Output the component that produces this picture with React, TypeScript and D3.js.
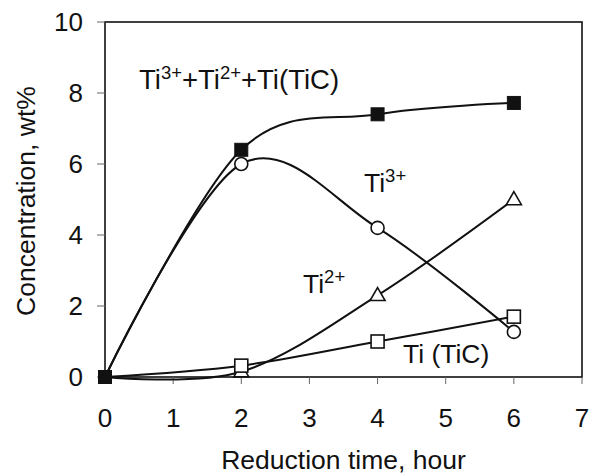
import React from "react";
import * as d3 from "d3";

const hours = [0, 2, 4, 6];
const totalTi = [0, 6.4, 7.4, 7.72];
const ti3 = [0, 6.0, 4.2, 1.27];
const ti2 = [0, 0.15, 2.3, 5.0];
const tiC = [0, 0.32, 1.0, 1.7];
const xTicks = [0, 1, 2, 3, 4, 5, 6, 7];
const yTicks = [0, 2, 4, 6, 8, 10];

const W = 593;
const H = 476;
const FONT = "'Liberation Sans', Arial, Helvetica, sans-serif";

export default function App() {
  const x = d3.scaleLinear().domain([0, 7]).range([105, 582]);
  const y = d3.scaleLinear().domain([0, 10]).range([377, 22]);
  const line = d3
    .line<[number, number]>()
    .x((d) => x(d[0]))
    .y((d) => y(d[1]))
    .curve(d3.curveCardinal.tension(0));
  const pts = (vals: number[]) => hours.map((h, i) => [h, vals[i]] as [number, number]);

  const sq = 13;
  const tri = (cx: number, cy: number) => {
    const s = 15;
    const h = 13;
    return `M${cx},${cy - h * 0.6}L${cx + s / 2},${cy + h * 0.4}L${cx - s / 2},${cy + h * 0.4}Z`;
  };

  return (
    <svg
      width={W}
      height={H}
      style={{ position: "absolute", left: 0, top: 0, background: "#fff" }}
      fontFamily={FONT}
    >
      <rect x={0} y={0} width={W} height={H} fill="#fff" />
      {/* frame */}
      <rect
        x={x(0)}
        y={y(10)}
        width={x(7) - x(0)}
        height={y(0) - y(10)}
        fill="none"
        stroke="#111"
        strokeWidth={1.6}
      />
      {/* y ticks */}
      {yTicks.map((t) => (
        <g key={"y" + t}>
          <line x1={x(0) - 8} x2={x(0)} y1={y(t)} y2={y(t)} stroke="#666" strokeWidth={1} />
          <text x={83} y={y(t)} dy="0.36em" textAnchor="end" fontSize={26} fill="#111">
            {t}
          </text>
        </g>
      ))}
      {/* x ticks */}
      {xTicks.map((t) => (
        <g key={"x" + t}>
          <line x1={x(t)} x2={x(t)} y1={y(0)} y2={y(0) + 7} stroke="#666" strokeWidth={1} />
          <text x={x(t)} y={427} textAnchor="middle" fontSize={26} fill="#111">
            {t}
          </text>
        </g>
      ))}
      <text x={(x(0) + x(7)) / 2} y={469} textAnchor="middle" fontSize={26.5} fill="#111">
        Reduction time, hour
      </text>
      <text
        transform={`translate(35,201) rotate(-90)`}
        textAnchor="middle"
        fontSize={26.5}
        fill="#111"
      >
        Concentration, wt%
      </text>

      {/* lines */}
      {[totalTi, ti3, ti2, tiC].map((s, i) => (
        <path key={"l" + i} d={line(pts(s)) || ""} fill="none" stroke="#111" strokeWidth={2} />
      ))}

      {/* markers */}
      {hours.map((h, i) =>
        i === 0 ? null : (
          <path key={"t" + i} d={tri(x(h), y(ti2[i]))} fill="#fff" stroke="#111" strokeWidth={1.6} />
        )
      )}
      {hours.map((h, i) =>
        i === 0 ? null : (
          <circle key={"c" + i} cx={x(h)} cy={y(ti3[i])} r={6.5} fill="#fff" stroke="#111" strokeWidth={1.6} />
        )
      )}
      {hours.map((h, i) =>
        i === 0 ? null : (
          <rect
            key={"o" + i}
            x={x(h) - sq / 2}
            y={y(tiC[i]) - sq / 2}
            width={sq}
            height={sq}
            fill="#fff"
            stroke="#111"
            strokeWidth={1.6}
          />
        )
      )}
      {hours.map((h, i) => (
        <rect
          key={"f" + i}
          x={x(h) - sq / 2}
          y={y(totalTi[i]) - sq / 2}
          width={sq}
          height={sq}
          fill="#111"
          stroke="#111"
          strokeWidth={1}
        />
      ))}

      {/* labels */}
      <text x={139} y={89} fontSize={27.5} fill="#111">
        Ti
        <tspan dy={-10} fontSize={18.5}>3+</tspan>
        <tspan dy={10} fontSize={27.5}>+Ti</tspan>
        <tspan dy={-10} fontSize={18.5}>2+</tspan>
        <tspan dy={10} fontSize={27.5}>+Ti(TiC)</tspan>
      </text>
      <text x={364} y={192} fontSize={26.5} fill="#111">
        Ti
        <tspan dy={-10} fontSize={18.5}>3+</tspan>
      </text>
      <text x={303} y={293} fontSize={26.5} fill="#111">
        Ti
        <tspan dy={-10} fontSize={18.5}>2+</tspan>
      </text>
      <text x={403} y={363} fontSize={26.5} fill="#111">
        Ti (TiC)
      </text>
    </svg>
  );
}
